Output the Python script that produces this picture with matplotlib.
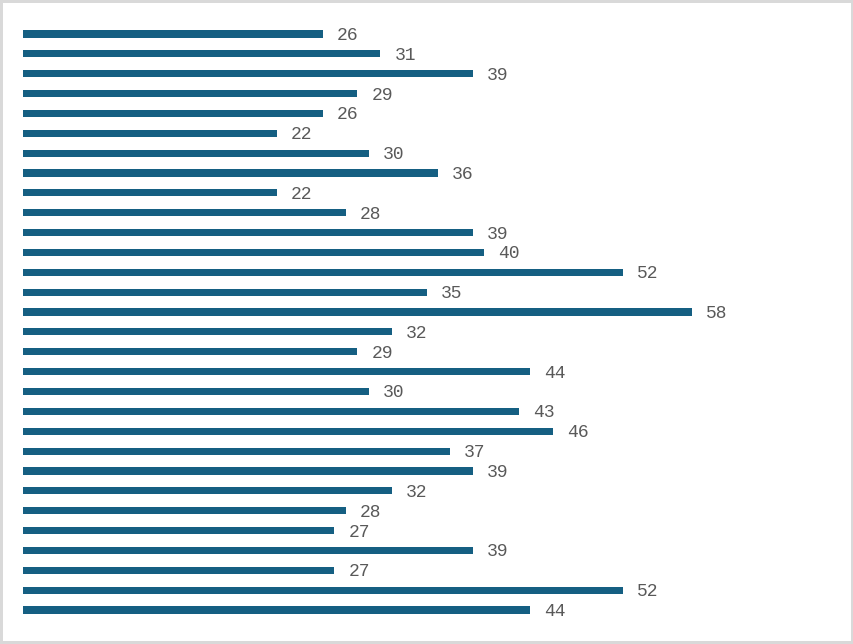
import matplotlib.pyplot as plt

# Bar values, top to bottom as drawn
values = [26, 31, 39, 29, 26, 22, 30, 36, 22, 28,
          39, 40, 52, 35, 58, 32, 29, 44, 30, 43,
          46, 37, 39, 32, 28, 27, 39, 27, 52, 44]
positions = list(range(len(values)))

BAR_COLOR = "#155f82"
LABEL_COLOR = "#595959"

fig = plt.figure(figsize=(8.54, 6.44), dpi=100)
fig.patch.set_facecolor("white")
fig.patch.set_edgecolor("#d9d9d9")
fig.patch.set_linewidth(3)

ax = fig.add_axes([23 / 854, 10 / 644, (831 - 23) / 854, 624 / 644])
ax.barh(positions, values, height=0.36, color=BAR_COLOR)

for y, v in zip(positions, values):
    ax.annotate(str(v), xy=(v, y), xytext=(14, -1.5), textcoords="offset pixels",
                va="center", ha="left", fontsize=13,
                family="Liberation Mono", color=LABEL_COLOR)

ax.set_xlim(0, (831 - 23) / 11.53)
ax.set_ylim(30.21, -1.208)
ax.axis("off")

fig.savefig("out.png", dpi=100, facecolor=fig.get_facecolor(),
            edgecolor=fig.get_edgecolor())
